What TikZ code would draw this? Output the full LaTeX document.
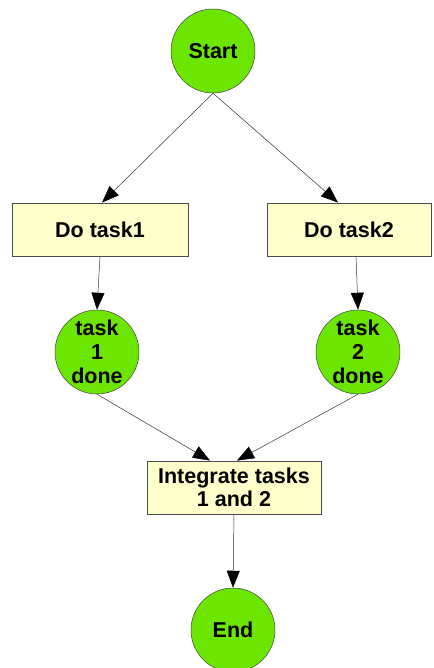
\documentclass[tikz,border=0pt]{standalone}
\usepackage{fontspec}
\setmainfont{Liberation Sans}
\usetikzlibrary{arrows.meta}
\definecolor{stategreen}{RGB}{108,230,0}
\definecolor{taskyellow}{RGB}{255,255,204}
\tikzset{
  state/.style={circle,fill=stategreen,draw=black!75,line width=0.5pt,
    minimum size=84pt,inner sep=0pt,font=\bfseries\fontsize{21.5}{24}\selectfont,align=center},
  taskbox/.style={rectangle,fill=taskyellow,draw=black!70,line width=0.8pt,
    minimum height=53pt,inner sep=2pt,font=\bfseries\fontsize{21.5}{23}\selectfont,align=center},
  flow/.style={draw=black!80,line width=0.5pt,-{Triangle[length=17pt,width=13pt,color=black]}}
}
\begin{document}
\begin{tikzpicture}[x=1pt,y=-1pt]
\useasboundingbox (0,0) rectangle (433,668);
\node[state] (start) at (213,51) {Start};
\node[taskbox,minimum width=176pt] (task1) at (100,229.5) {Do task1};
\node[taskbox,minimum width=164pt] (task2) at (349,229.5) {Do task2};
\node[state] (done1) at (97,352) {task\\1\\done};
\node[state] (done2) at (358,352) {task\\2\\done};
\node[taskbox,minimum width=174pt] (integ) at (234,487.5) {Integrate tasks\\1 and 2};
\node[state] (end) at (233,630) {End};
\draw[flow] (start.south) -- ([xshift=2pt]task1.north);
\draw[flow] (start.south) -- ([xshift=-11pt]task2.north);
\draw[flow] (task1.south) -- (done1.north);
\draw[flow] ([xshift=7pt]task2.south) -- (done2.north);
\draw[flow] (done1.south) -- ([xshift=-24pt]integ.north);
\draw[flow] (done2.south) -- ([xshift=3pt]integ.north);
\draw[flow] (integ.south) -- (end.north);
\end{tikzpicture}
\end{document}
